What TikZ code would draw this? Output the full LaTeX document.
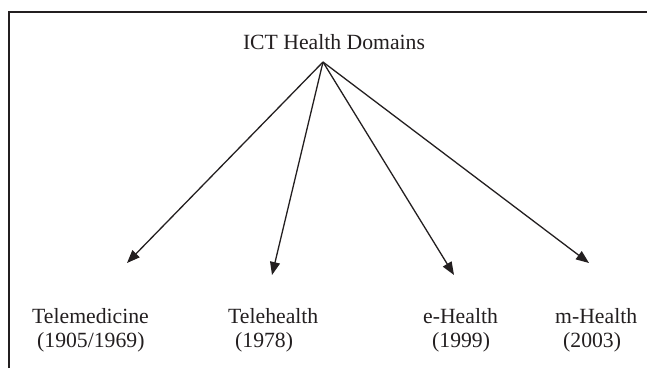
\documentclass[tikz,border=0pt]{standalone}
\usepackage{fontspec}
\setmainfont{Liberation Serif}
\usetikzlibrary{arrows.meta}
\definecolor{ink}{RGB}{35,31,32}
\begin{document}
\begin{tikzpicture}[x=1pt,y=-1pt,
  lbl/.style={anchor=base west,inner sep=0pt,text=ink,font=\fontsize{21.7}{26}\selectfont},
  ttl/.style={anchor=base,inner sep=0pt,text=ink,font=\fontsize{21.7}{26}\selectfont},
  arr/.style={draw=ink,line width=1.3pt,-{Triangle[length=13pt,width=10pt]}},
  frame/.style={draw=ink,line width=2.6pt}]
\useasboundingbox (0,0) rectangle (647,368);
\draw[frame] (9,368) -- (9,12) -- (647,12);
\node[ttl] (title) at (334,49) {ICT Health Domains};
\coordinate (apex) at (323,62);
\coordinate (t1) at (127,263);
\coordinate (t2) at (272,275);
\coordinate (t3) at (454,275);
\coordinate (t4) at (589,263);
\draw[arr] (apex) -- (t1);
\draw[arr] (apex) -- (t2);
\draw[arr] (apex) -- (t3);
\draw[arr] (apex) -- (t4);
\node[lbl] (tm) at (32,323) {Telemedicine};
\node[lbl] (tmy) at (37,347) {(1905/1969)};
\node[lbl] (th) at (228,323) {Telehealth};
\node[lbl] (thy) at (235,347) {(1978)};
\node[lbl] (eh) at (423,323) {e-Health};
\node[lbl] (ehy) at (432,347) {(1999)};
\node[lbl] (mh) at (555,323) {m-Health};
\node[lbl] (mhy) at (563,347) {(2003)};
\end{tikzpicture}
\end{document}
